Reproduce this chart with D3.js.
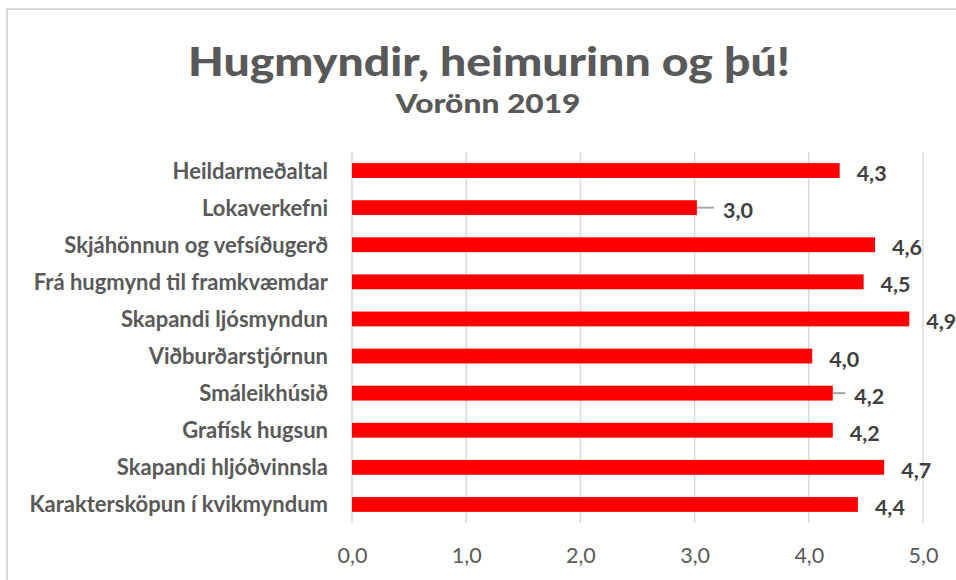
<!DOCTYPE html>
<html>
<head>
<meta charset="utf-8">
<script src="https://cdn.jsdelivr.net/npm/d3@7"></script>
<style>
  html, body { margin: 0; padding: 0; background: #fff; }
  svg { display: block; }
</style>
</head>
<body>
<svg id="chart" width="956" height="580"></svg>
<script>

var categories = [
    "Heildarmeðaltal",
    "Lokaverkefni",
    "Skjáhönnun og vefsíðugerð",
    "Frá hugmynd til framkvæmdar",
    "Skapandi ljósmyndun",
    "Viðburðarstjórnun",
    "Smáleikhúsið",
    "Grafísk hugsun",
    "Skapandi hljóðvinnsla",
    "Karaktersköpun í kvikmyndum"
]

var values = [4.27, 3.02, 4.58, 4.48, 4.88, 4.03, 4.21, 4.21, 4.66, 4.43]

// plus-side error bars (only two are visible past the bar end)
var errorPlus = [0, 0.15, 0, 0, 0, 0, 0.11, 0, 0, 0]

var xTicks = [0, 1, 2, 3, 4, 5]

var title = "Hugmyndir, heimurinn og þú!"
var subtitle = "Vorönn 2019"

var width = 956
var height = 580

var svg = d3.select('#chart')

var margin = { top: 152, right: 33, bottom: 57, left: 352 }

var x = d3.scaleLinear()
    .domain([0, 5])
    .range([margin.left, width - margin.right])

var y = d3.scaleBand()
    .domain(categories)
    .range([margin.top, height - margin.bottom])
    .paddingInner(0.6)
    .paddingOuter(0.3)

var comma = function (v) { return d3.format(".1f")(v).replace(".", ",") }

// chart frame (only left and top edges fall inside the picture)
svg.append("rect")
    .attr("x", 7)
    .attr("y", 9)
    .attr("width", width)
    .attr("height", height)
    .attr("fill", "none")
    .attr("stroke", "#d9d9d9")
    .attr("stroke-width", 2)

svg.append("text")
    .attr("x", 489)
    .attr("y", 76)
    .attr("text-anchor", "middle")
    .attr("font-family", "Lato, 'Open Sans', sans-serif")
    .attr("font-weight", "900")
    .attr("font-size", "40px")
    .attr("fill", "#595959")
    .attr("textLength", 602)
    .attr("lengthAdjust", "spacingAndGlyphs")
    .text(title)

svg.append("text")
    .attr("x", 488)
    .attr("y", 113)
    .attr("text-anchor", "middle")
    .attr("font-family", "Lato, 'Open Sans', sans-serif")
    .attr("font-weight", "900")
    .attr("font-size", "27px")
    .attr("fill", "#595959")
    .attr("textLength", 185)
    .attr("lengthAdjust", "spacingAndGlyphs")
    .text(subtitle)

// gridlines
svg.append("g")
    .selectAll("line")
    .data(xTicks)
    .enter().append("line")
    .attr("x1", function (d) { return x(d) })
    .attr("x2", function (d) { return x(d) })
    .attr("y1", margin.top)
    .attr("y2", height - margin.bottom)
    .attr("stroke", "#d9d9d9")
    .attr("stroke-width", 1.5)

// x axis tick labels
var xAxis = d3.axisBottom(x)
    .tickValues(xTicks)
    .tickFormat(comma)
    .tickSize(0)
    .tickPadding(0)

var axisG = svg.append("g")
    .attr("transform", "translate(0," + (height - margin.bottom) + ")")
    .call(xAxis)

axisG.select(".domain").remove()

axisG.selectAll("text")
    .attr("y", 40)
    .attr("dy", null)
    .attr("font-family", "Lato, sans-serif")
    .attr("font-size", "21.5px")
    .attr("fill", "#595959")

// category labels
svg.append("g")
    .selectAll("text")
    .data(categories)
    .enter().append("text")
    .attr("x", 328)
    .attr("y", function (d) { return y(d) + y.bandwidth() / 2 + 8 })
    .attr("text-anchor", "end")
    .attr("font-family", "Lato, sans-serif")
    .attr("font-weight", "bold")
    .attr("font-size", "22px")
    .attr("fill", "#595959")
    .text(function (d) { return d })

// bars
svg.append("g")
    .selectAll("rect")
    .data(values)
    .enter().append("rect")
    .attr("x", x(0))
    .attr("y", function (d, i) { return y(categories[i]) })
    .attr("width", function (d) { return x(d) - x(0) })
    .attr("height", y.bandwidth())
    .attr("fill", "#ff0000")

// error bars
svg.append("g")
    .selectAll("line")
    .data(values)
    .enter().append("line")
    .attr("x1", function (d) { return x(d) })
    .attr("x2", function (d, i) { return x(d + errorPlus[i]) })
    .attr("y1", function (d, i) { return y(categories[i]) + y.bandwidth() / 2 })
    .attr("y2", function (d, i) { return y(categories[i]) + y.bandwidth() / 2 })
    .attr("stroke", "#a6a6a6")
    .attr("stroke-width", 2)
    .attr("display", function (d, i) { return errorPlus[i] > 0 ? "block" : "none" })

// value labels
svg.append("g")
    .selectAll("text")
    .data(values)
    .enter().append("text")
    .attr("x", function (d, i) { return x(d + errorPlus[i]) + (errorPlus[i] > 0 ? 9 : 17) })
    .attr("y", function (d, i) { return y(categories[i]) + y.bandwidth() / 2 + 10.5 })
    .attr("font-family", "Lato, sans-serif")
    .attr("font-weight", "bold")
    .attr("font-size", "21.5px")
    .attr("fill", "#404040")
    .text(function (d) { return comma(d) })

</script>
</body>
</html>
